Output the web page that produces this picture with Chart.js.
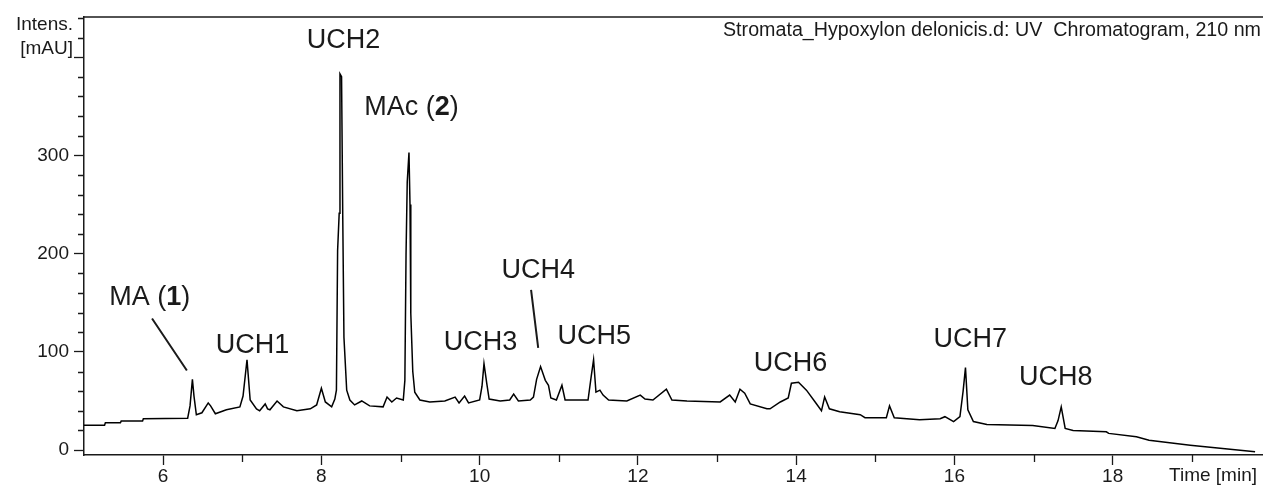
<!DOCTYPE html>
<html>
<head>
<meta charset="utf-8">
<title>UV Chromatogram 210 nm</title>
<script src="https://cdn.jsdelivr.net/npm/chart.js@4.4.1/dist/chart.umd.min.js"></script>
<style>
  body { margin: 0; background: #fff; }
  #wrap { width: 1263px; height: 485px; }
</style>
</head>
<body>
<div id="wrap"><canvas id="chromChart"></canvas></div>

<script>
// retention time [min] and intensity [mAU]
const timeMin = [5.00, 5.26, 5.27, 5.46, 5.47, 5.74, 5.75, 6.31, 6.34, 6.37, 6.39, 6.42, 6.49, 6.57, 6.60, 6.66,
  6.80, 6.97, 7.01, 7.06, 7.10, 7.18, 7.22, 7.29, 7.32, 7.35, 7.44, 7.52, 7.69, 7.86, 7.94, 8.00, 8.05, 8.13,
  8.17, 8.19, 8.205, 8.225, 8.235, 8.255, 8.27, 8.285, 8.32, 8.36, 8.42, 8.51, 8.61, 8.78, 8.83, 8.89, 8.95,
  9.035, 9.055, 9.07, 9.085, 9.107, 9.12, 9.13, 9.155, 9.18, 9.245, 9.37, 9.56, 9.69, 9.74, 9.81, 9.86, 10.00,
  10.03, 10.055, 10.09, 10.12, 10.26, 10.38, 10.43, 10.49, 10.64, 10.68, 10.72, 10.77, 10.83, 10.87, 10.90,
  10.97, 11.04, 11.08, 11.37, 11.41, 11.44, 11.47, 11.52, 11.56, 11.63, 11.86, 12.03, 12.09, 12.19, 12.36,
  12.43, 12.62, 13.04, 13.16, 13.23, 13.29, 13.35, 13.42, 13.63, 13.67, 13.80, 13.90, 13.94, 14.03, 14.13,
  14.24, 14.32, 14.36, 14.42, 14.55, 14.81, 14.87, 15.14, 15.18, 15.24, 15.56, 15.82, 15.88, 15.99, 16.07,
  16.11, 16.14, 16.17, 16.24, 16.41, 16.99, 17.27, 17.31, 17.35, 17.40, 17.50, 17.92, 17.95, 18.30, 18.46,
  18.98, 19.80];
const intensity = [25.4, 25.4, 27.8, 27.8, 29.5, 29.5, 32, 32.5, 45, 72, 55, 36, 38, 48, 45, 37,
  41, 44, 55, 92, 51, 42, 40, 47, 42, 41, 50, 44, 40, 42, 46, 63, 49, 44,
  52, 61, 203, 241, 383, 380, 238, 115, 61, 51, 46, 50, 45, 44, 54, 49, 53,
  51, 71, 200, 273, 303, 250, 139, 80, 59, 51, 49, 50, 54, 48, 55, 48, 51,
  65, 88, 68, 52, 50, 51, 57, 50, 51, 54, 72, 85, 71, 66, 53,
  51, 66, 51, 51, 75, 92, 59, 61, 56, 51, 50, 56, 52, 51, 62,
  51, 50, 49, 56, 49, 62, 58, 47, 42, 42, 49, 53, 68, 69, 61,
  49, 40, 54, 42, 39, 36, 33, 33, 45, 33, 31, 32, 34, 29, 34,
  60, 84, 41, 29, 26, 25, 22, 30, 44, 22, 20, 18.6, 17, 13.5, 10,
  5, -1.7];

const xMajorTicks = [6, 8, 10, 12, 14, 16, 18];
const xMinorTicks = [7, 9, 11, 13, 15, 17, 19];
const yMajorTicks = [0, 100, 200, 300, 400];
const yMinorTicks = [20, 40, 60, 80, 120, 140, 160, 180, 220, 240, 260, 280, 320, 340, 360, 380, 420, 440];

// peak labels (centre of the text, in min / mAU)
const peakNames = ['MA (1)', 'UCH1', 'UCH2', 'MAc (2)', 'UCH3', 'UCH4', 'UCH5', 'UCH6', 'UCH7', 'UCH8'];
const peakBold  = ['1', '', '', '2', '', '', '', '', '', ''];
const peakLabelX = [5.83, 7.13, 8.28, 9.14, 10.01, 10.74, 11.45, 13.93, 16.20, 17.28];
const peakLabelY = [155, 106, 417, 349, 109, 183, 116, 88, 113, 74];

// leader lines: MA (1) and UCH4
const leaderStart = [[5.86, 134], [10.65, 163]];
const leaderEnd   = [[6.30, 81], [10.74, 104]];

const titleText = 'Stromata_Hypoxylon delonicis.d: UV  Chromatogram, 210 nm';
const FONT = "'Liberation Sans', Arial, sans-serif";
const INK = '#1a1a1a';

const decor = {
  id: 'decor',
  afterDraw(chart) {
    const ctx = chart.ctx;
    const xs = chart.scales.x, ys = chart.scales.y, a = chart.chartArea;
    ctx.save();

    // top frame line
    ctx.strokeStyle = INK;
    ctx.lineWidth = 1.5;
    ctx.beginPath();
    ctx.moveTo(a.left, a.top + 0.5);
    ctx.lineTo(a.right, a.top + 0.5);
    ctx.stroke();

    // minor ticks
    ctx.lineWidth = 1.3;
    ctx.beginPath();
    xMinorTicks.forEach(v => {
      const px = Math.round(xs.getPixelForValue(v)) + 0.5;
      ctx.moveTo(px, a.bottom);
      ctx.lineTo(px, a.bottom + 7);
    });
    yMinorTicks.forEach(v => {
      const py = Math.round(ys.getPixelForValue(v)) + 0.5;
      ctx.moveTo(a.left, py);
      ctx.lineTo(a.left - 6, py);
    });
    ctx.stroke();

    // axis captions
    ctx.fillStyle = INK;
    ctx.font = '19px ' + FONT;
    ctx.textAlign = 'right';
    ctx.textBaseline = 'middle';
    ctx.fillText('Intens.', 73, 25);
    ctx.fillText('[mAU]', 73, 49);
    ctx.fillText('Time [min]', 1257, 476);

    // title, squeezed to the width of the original
    ctx.font = '20px ' + FONT;
    const tw = ctx.measureText(titleText).width;
    ctx.save();
    ctx.translate(1261, 30);
    ctx.scale(538 / tw, 1);
    ctx.fillText(titleText, 0, 0);
    ctx.restore();

    // leader lines
    ctx.lineWidth = 2;
    ctx.beginPath();
    leaderStart.forEach((p, i) => {
      ctx.moveTo(xs.getPixelForValue(p[0]), ys.getPixelForValue(p[1]));
      ctx.lineTo(xs.getPixelForValue(leaderEnd[i][0]), ys.getPixelForValue(leaderEnd[i][1]));
    });
    ctx.stroke();

    // peak labels
    const normal = '27px ' + FONT, bold = 'bold 27px ' + FONT;
    ctx.textAlign = 'left';
    peakNames.forEach((name, i) => {
      const parts = peakBold[i] ? name.split(peakBold[i]) : [name];
      const segs = peakBold[i] ? [[parts[0], normal], [peakBold[i], bold], [parts[1], normal]] : [[name, normal]];
      let w = 0;
      segs.forEach(s => { ctx.font = s[1]; w += ctx.measureText(s[0]).width; });
      let px = xs.getPixelForValue(peakLabelX[i]) - w / 2;
      const py = ys.getPixelForValue(peakLabelY[i]);
      segs.forEach(s => {
        ctx.font = s[1];
        ctx.fillText(s[0], px, py);
        px += ctx.measureText(s[0]).width;
      });
    });

    ctx.restore();
  }
};

const points = timeMin.map((t, i) => ({ x: t, y: intensity[i] }));

new Chart(document.getElementById('chromChart'), {
  type: 'line',
  data: {
    datasets: [{
      data: points,
      borderColor: '#000',
      borderWidth: 1.5,
      pointRadius: 0,
      tension: 0,
      fill: false
    }]
  },
  options: {
    responsive: true,
    maintainAspectRatio: false,
    animation: false,
    layout: { padding: { top: 16, right: 0, left: 0, bottom: 0 } },
    plugins: { legend: { display: false }, tooltip: { enabled: false } },
    scales: {
      x: {
        type: 'linear',
        min: 5,
        max: 19.9,
        afterBuildTicks: s => { s.ticks = xMajorTicks.map(v => ({ value: v })); },
        afterFit: s => { s.height = 30; },
        ticks: { color: INK, font: { family: FONT, size: 19 }, padding: 0, maxRotation: 0, autoSkip: false },
        grid: { drawOnChartArea: false, tickLength: 10, tickColor: INK, tickWidth: 1.3 },
        border: { color: INK, width: 1.5 }
      },
      y: {
        min: -5,
        max: 441.5,
        afterBuildTicks: s => { s.ticks = yMajorTicks.map(v => ({ value: v })); },
        afterFit: s => { s.width = 84; },
        ticks: {
          color: INK,
          font: { family: FONT, size: 19 },
          padding: 5,
          callback: v => (v === 400 ? '' : String(v))
        },
        grid: { drawOnChartArea: false, tickLength: 10, tickColor: INK, tickWidth: 1.3 },
        border: { color: INK, width: 1.5 }
      }
    }
  },
  plugins: [decor]
});
</script>
</body>
</html>
